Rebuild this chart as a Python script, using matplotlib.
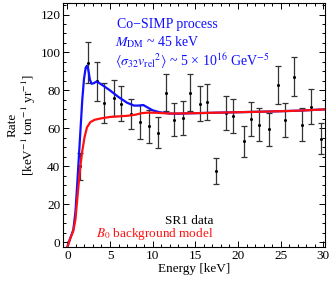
import numpy as np
import matplotlib
matplotlib.use('Agg')
import matplotlib.pyplot as plt
from matplotlib.ticker import MultipleLocator

plt.rcParams['font.family'] = ['Liberation Serif', 'DejaVu Serif']
plt.rcParams['mathtext.fontset'] = 'stix'

# SR1 data (energy, rate, error)
energy = [1.44, 2.38, 3.48, 4.26, 5.43, 6.33, 7.5, 8.48, 9.61, 10.63,
          11.6, 12.46, 13.56, 14.42, 15.51, 16.38, 17.47, 18.6, 19.38, 20.67,
          21.57, 22.5, 23.68, 24.65, 25.56, 26.61, 27.5, 28.5, 29.78]
rate = [40, 94.6, 84.8, 73.4, 76.0, 73.0, 67.5, 63.5, 61.0, 57.8,
        78.7, 64.6, 65.4, 78.7, 73.0, 74.0, 37.5, 67.9, 66.5, 53.2,
        64.9, 62.0, 59.5, 83.0, 64.4, 87.2, 62.0, 71.5, 54.6]
rate_err = [7, 10.8, 10.2, 10.5, 9.7, 9.3, 8.0, 9.0, 8.5, 8.3,
            9.8, 8.8, 8.8, 9.8, 9.3, 9.4, 6.8, 9.0, 9.0, 8.1,
            8.8, 8.7, 8.6, 10.0, 9.0, 10.3, 8.7, 9.3, 8.2]

# B0 background model
bkg_e = [0, 0.3, 0.7, 0.95, 1.15, 1.35, 1.55, 1.75, 2.0, 2.3, 2.7, 3.2, 4, 5,
         6, 7, 8, 8.7, 9.5, 10.5, 12, 14, 17, 20, 24, 27, 30.2]
bkg_r = [-2.6, 1.5, 6, 12, 22, 32, 41, 48, 55, 60.5, 63.3, 64.5, 65.3, 66,
         66.3, 66.6, 67.2, 68, 68.3, 68.2, 67.8, 67.9, 68.2, 68.5, 68.9, 69.3, 70]

# Co-SIMP signal + background
sig_e = [0, 0.3, 0.7, 0.95, 1.15, 1.35, 1.55, 1.75, 1.95, 2.15, 2.3, 2.45,
         2.65, 2.85, 3.1, 3.4, 3.7, 4.2, 5, 6, 7, 7.8, 8.4, 8.9, 9.4, 10,
         10.8, 12, 13, 14, 17, 20, 24, 27, 30.2]
sig_r = [-2.6, 1.5, 6.5, 16, 30, 45, 60, 75, 86, 92, 93, 91,
         85.5, 83.5, 83.8, 84.6, 84, 82.5, 80, 76.5, 73.5, 72, 72, 72.3, 71, 69.5,
         68.5, 67.8, 67.7, 67.9, 68.2, 68.5, 68.9, 69.3, 70]

fig = plt.figure(figsize=(3.32, 2.85), dpi=100)
ax = fig.add_axes([0.19, 0.133, 0.789, 0.856])

ax.errorbar(energy, rate, yerr=rate_err, fmt='o', ms=1.2, color='black',
            ecolor='#333333', elinewidth=0.9, capsize=2.3, capthick=0.9, zorder=2)
ax.plot(sig_e, sig_r, color='#1010ff', lw=1.6, zorder=3)
ax.plot(bkg_e, bkg_r, color='#ff1010', lw=1.6, zorder=4)

ax.set_xlim(-0.5, 30.2)
ax.set_ylim(-2.6, 126)
ax.xaxis.set_major_locator(MultipleLocator(5))
ax.xaxis.set_minor_locator(MultipleLocator(1))
ax.yaxis.set_major_locator(MultipleLocator(20))
ax.yaxis.set_minor_locator(MultipleLocator(5))
ax.tick_params(which='both', direction='in', top=True, right=True,
               labelsize=9.5, width=0.7, pad=2)
ax.tick_params(which='major', length=4)
ax.tick_params(which='minor', length=2)
for s in ax.spines.values():
    s.set_linewidth(0.8)

ax.set_xlabel('Energy [keV]', fontsize=9.5, labelpad=1)
ax.set_ylabel('Rate\n[keV$^{-1}$ ton$^{-1}$ yr$^{-1}$]', fontsize=9.5,
              labelpad=2, linespacing=1.1)

ax.text(0.205, 0.912, 'Co\u2212SIMP process', transform=ax.transAxes,
        color='#1010ff', fontsize=10, va='center')
ax.text(0.2, 0.842, r'$M_{\rm DM}$ ~ 45 keV', transform=ax.transAxes,
        color='#1010ff', fontsize=10, va='center')
ax.text(0.2, 0.762, r'$\langle\sigma_{32}v_{\rm rel}{}^2\rangle$ ~ 5 × 10$^{16}$ GeV$^{-5}$',
        transform=ax.transAxes, color='#1010ff', fontsize=10, va='center')

ax.text(0.573, 0.107, 'SR1 data', transform=ax.transAxes, color='black',
        fontsize=9.5, ha='right', va='center')
ax.text(0.573, 0.053, '$B_0$ background model', transform=ax.transAxes,
        color='#ff1010', fontsize=9.5, ha='right', va='center')

plt.savefig('out.png', dpi=100)
